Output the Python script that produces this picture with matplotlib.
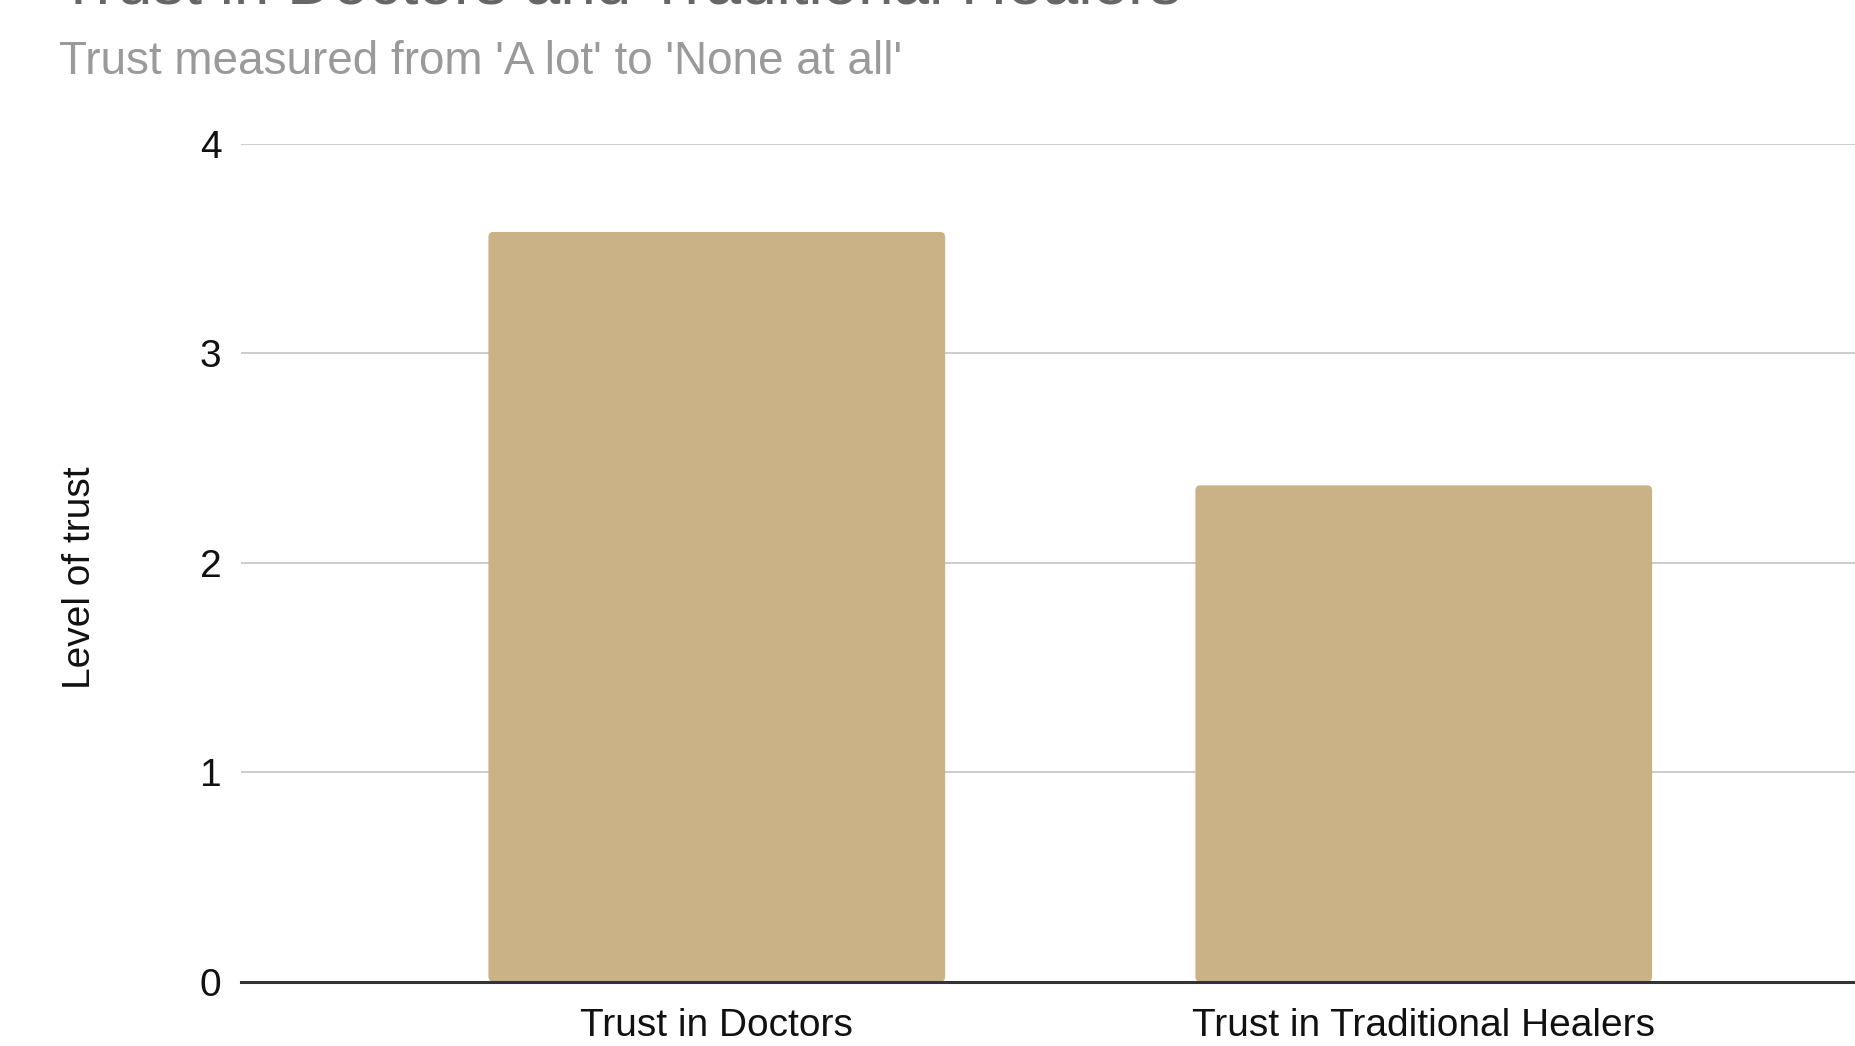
import matplotlib
matplotlib.use("Agg")
import matplotlib.pyplot as plt
from matplotlib.patches import FancyBboxPatch

plt.rcParams['font.family'] = ['Liberation Sans', 'DejaVu Sans']

categories = ["Trust in Doctors", "Trust in Traditional Healers"]
trust_levels = [3.58, 2.37]
y_ticks = [0, 1, 2, 3, 4]

BAR_COLOR = "#cbb286"

fig = plt.figure(figsize=(18.55, 10.46), dpi=100)
ax = fig.add_axes([241 / 1855, 1 - 981.7 / 1046, 1 - 241 / 1855, (981.7 - 144) / 1046])

x = list(range(len(categories)))
bars = ax.bar(x, trust_levels, width=0.646, color=BAR_COLOR, zorder=3)

ax.set_xlim(-0.673, 1.610)
ax.set_ylim(0, 4)

# swap the plain rectangles for ones with slightly rounded corners
x_px = ax.get_position().width * 1855 / (1.610 + 0.673)
y_px = ax.get_position().height * 1046 / 4
for rect in bars:
    rect.set_visible(False)
    ax.add_patch(FancyBboxPatch(
        (rect.get_x(), rect.get_y()), rect.get_width(), rect.get_height(),
        boxstyle=f"round,pad=0,rounding_size={5 / x_px}",
        mutation_aspect=x_px / y_px,
        facecolor=BAR_COLOR, edgecolor="none", zorder=3))

ax.set_yticks(y_ticks)
ax.set_yticklabels([str(t) for t in y_ticks])
ax.set_xticks(x)
ax.set_xticklabels(categories)

ax.grid(axis="y", color="#cccccc", linewidth=1.4, zorder=0)
ax.set_axisbelow(True)
for side in ["left", "right", "top"]:
    ax.spines[side].set_visible(False)
ax.spines["bottom"].set_color("#333333")
ax.spines["bottom"].set_linewidth(2.2)
ax.spines["bottom"].set_zorder(4)

ax.tick_params(axis="y", length=0, pad=14, labelsize=28, labelcolor="#111111")
ax.tick_params(axis="x", length=0, pad=19, labelsize=28, labelcolor="#111111")

fig.text(80 / 1855, 1 - 578 / 1046, "Level of trust", rotation=90,
         ha="center", va="center", fontsize=28, color="#111111")

# title sits mostly above the top edge
fig.text(59 / 1855, 1 - 3 / 1046, "Trust in Doctors and Traditional Healers",
         ha="left", va="baseline", fontsize=46, color="#666666")
fig.text(59 / 1855, 1 - 74 / 1046, "Trust measured from 'A lot' to 'None at all'",
         ha="left", va="baseline", fontsize=33, color="#9a9a9a")

fig.savefig("out.png", dpi=100)
